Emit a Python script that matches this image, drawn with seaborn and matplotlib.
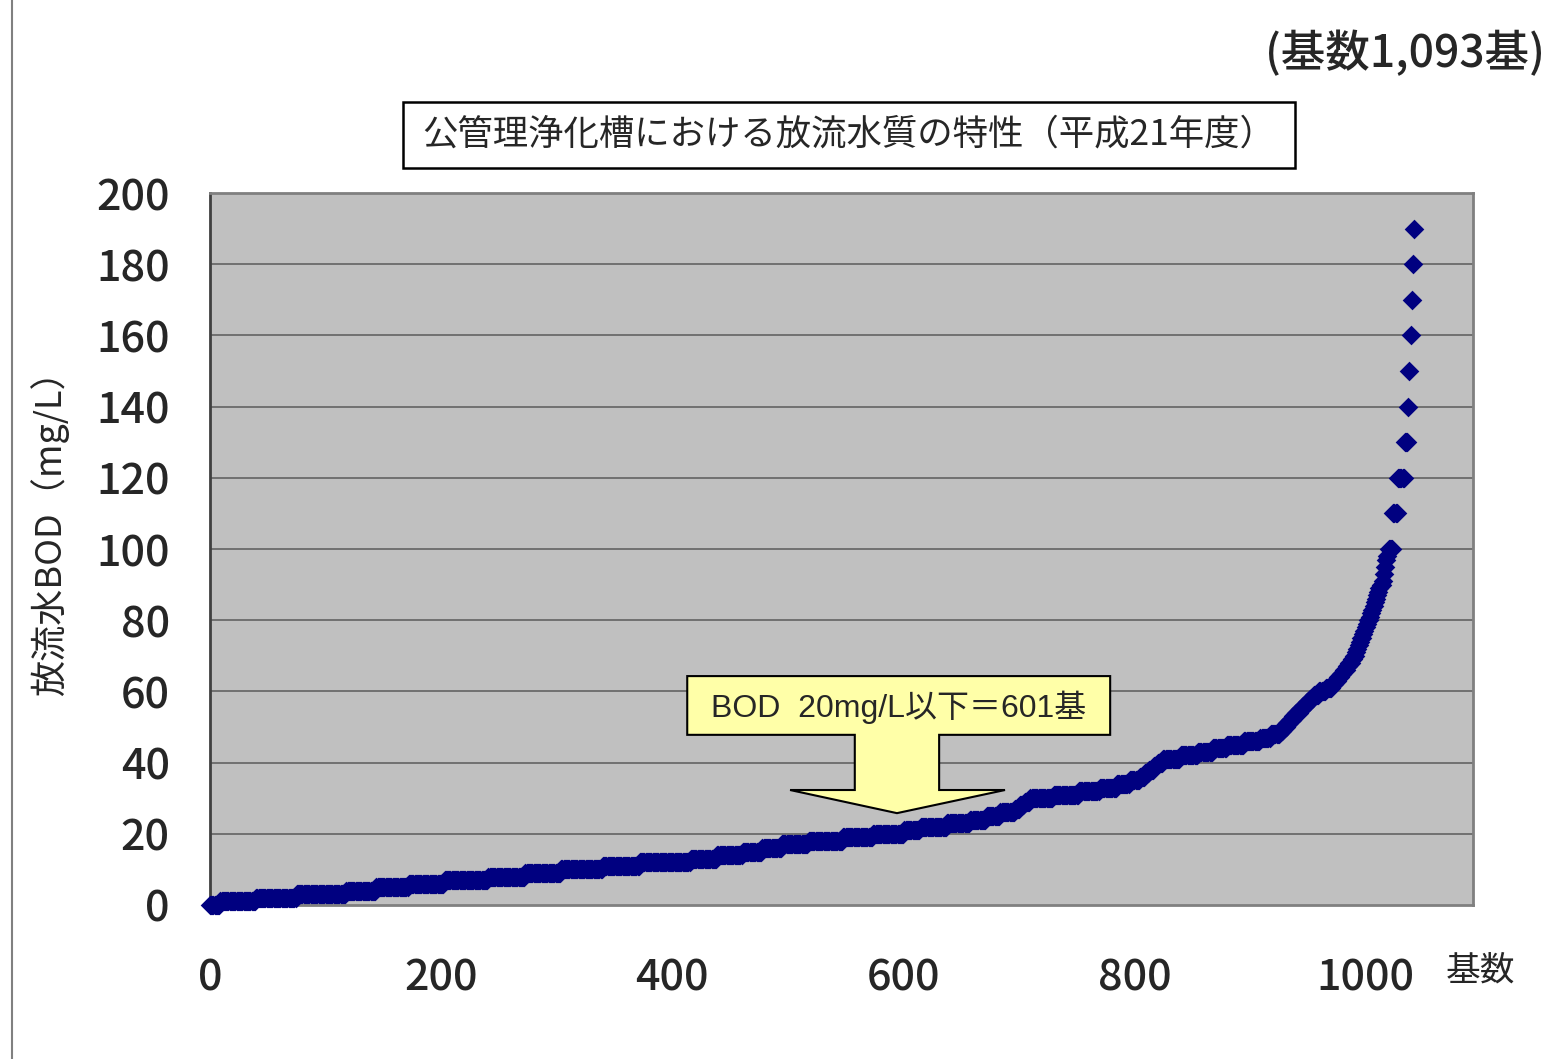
import numpy as np
import pandas as pd
import matplotlib
matplotlib.use("Agg")
import matplotlib.pyplot as plt
from matplotlib.patches import Polygon, Rectangle
from matplotlib.lines import Line2D
import seaborn as sns

# BOD value (mg/L) and how many units share it
bod_values = [0, 1, 2, 3, 4, 5, 6, 7, 8, 9, 10, 11, 12, 13, 14, 15, 16, 17, 18, 19, 20,
              21, 22, 23, 24, 25, 26, 27, 28, 29, 30, 31, 32, 33, 34, 35, 36, 37, 38, 39, 40,
              41, 42, 43, 44, 45, 46, 47, 48,
              49, 50, 51, 52, 53, 54, 55, 56, 57, 58, 59, 60, 61,
              62, 63, 64, 65, 66, 67, 68, 69, 70, 71, 72, 73, 74, 75, 76, 77, 78, 79, 80,
              81, 82, 83, 84, 85, 86, 87, 88, 89, 90, 91, 93, 95, 97, 98,
              100, 110, 120, 130, 140, 150, 160, 170, 180, 190]
unit_counts = [9, 31, 35, 43, 26, 28, 31, 38, 32, 31, 36, 32, 44, 23, 22, 17, 17, 23, 30, 26, 27,
               14, 23, 20, 14, 12, 13, 4, 4, 5, 20, 22, 18, 15, 11, 9, 4, 4, 4, 3, 5,
               15, 15, 13, 12, 15, 14, 9, 8,
               3, 3, 3, 2, 3, 3, 3, 3, 3, 3, 5, 6, 5,
               3, 2, 3, 2, 3, 2, 2, 2, 2, 1, 1, 1, 1, 2, 1, 1, 1, 1, 2,
               1, 1, 1, 1, 1, 1, 1, 1, 1, 2, 1, 1, 1, 1, 1,
               4, 4, 6, 3, 1, 1, 1, 1, 1, 1]

x_ticks = [0, 200, 400, 600, 800, 1000]
y_ticks = [0, 20, 40, 60, 80, 100, 120, 140, 160, 180, 200]
total_units = 1093
below_20 = 601

title = "公管理浄化槽における放流水質の特性（平成21年度）"
count_note = "(基数1,093基)"
y_label = "放流水BOD（mg/L）"
x_label = "基数"
callout = "BOD  20mg/L以下＝601基"

bod = np.repeat(bod_values, unit_counts)
df = pd.DataFrame({"rank": np.arange(len(bod)), "bod": bod})

sns.set_theme(style="white")
plt.rcParams["font.family"] = ["Noto Sans CJK JP", "DejaVu Sans"]

W, H = 1549, 1059
fig = plt.figure(figsize=(W / 100, H / 100), dpi=100)
fig.patch.set_facecolor("white")
ax = fig.add_axes([210 / W, 1 - 905 / H, (1473 - 210) / W, (905 - 193) / H])
ax.set_facecolor("#C0C0C0")

for v in y_ticks[1:-1]:
    ax.axhline(v, color="#6a6a6a", lw=1.3, zorder=1)

sns.scatterplot(data=df, x="rank", y="bod", ax=ax, marker="D", color="#000080",
                s=100, linewidth=0, clip_on=False, zorder=3, legend=False)

ax.set_xlim(0, total_units)
ax.set_ylim(0, 200)
ax.set_xticks(x_ticks)
ax.set_yticks(y_ticks)
ax.set_xlabel("")
ax.set_ylabel("")
ax.tick_params(axis="x", direction="in", length=11, width=1.5, color="#404040",
               labelsize=31, pad=37)
ax.tick_params(axis="y", length=0, labelsize=31, pad=29)
for lab in ax.get_xticklabels() + ax.get_yticklabels():
    lab.set_fontweight("medium")
for name, sp in ax.spines.items():
    sp.set_visible(True)
    sp.set_linewidth(2)
    sp.set_color("#404040" if name == "left" else "#808080")

# callout box with block arrow pointing at the 601st unit
bx0, bx1, by0, by1 = 413, 779, 47.8, 64.3
sx0, sx1, sy = 558, 631, 32.3
hx0, hx1, tip_y = 502, 688, 25.8
tip_x = (sx0 + sx1) / 2
shape = [(bx0, by1), (bx1, by1), (bx1, by0), (sx1, by0), (sx1, sy), (hx1, sy),
         (tip_x, tip_y), (hx0, sy), (sx0, sy), (sx0, by0), (bx0, by0)]
ax.add_patch(Polygon(shape, closed=True, facecolor="#FFFFA8", edgecolor="black",
                     lw=1.5, zorder=4, clip_on=False))
ax.text((bx0 + bx1) / 2, (by0 + by1) / 2 - 0.6, callout, ha="center", va="center",
        fontsize=23, zorder=5, family=["Liberation Sans", "Noto Sans CJK JP"])

# title box
fig.patches.append(Rectangle((403 / W, 1 - 168 / H), (1295 - 403) / W, (168 - 102) / H,
                             transform=fig.transFigure, facecolor="white",
                             edgecolor="black", lw=1.8))
fig.text(849 / W, 1 - 135 / H, title, ha="center", va="center", fontsize=25.5)
fig.text(1545 / W, 1 - 54 / H, count_note, ha="right", va="center", fontsize=32,
         fontweight="medium")
fig.text(50 / W, 1 - 524 / H, y_label, ha="center", va="center", rotation=90, fontsize=26)
fig.text(1446 / W, 1 - 971 / H, x_label, ha="left", va="center", fontsize=25)

fig.lines.append(Line2D([12 / W, 12 / W], [0, 1], transform=fig.transFigure,
                        color="#808080", lw=1.5))

fig.savefig("out.png", dpi=100)
